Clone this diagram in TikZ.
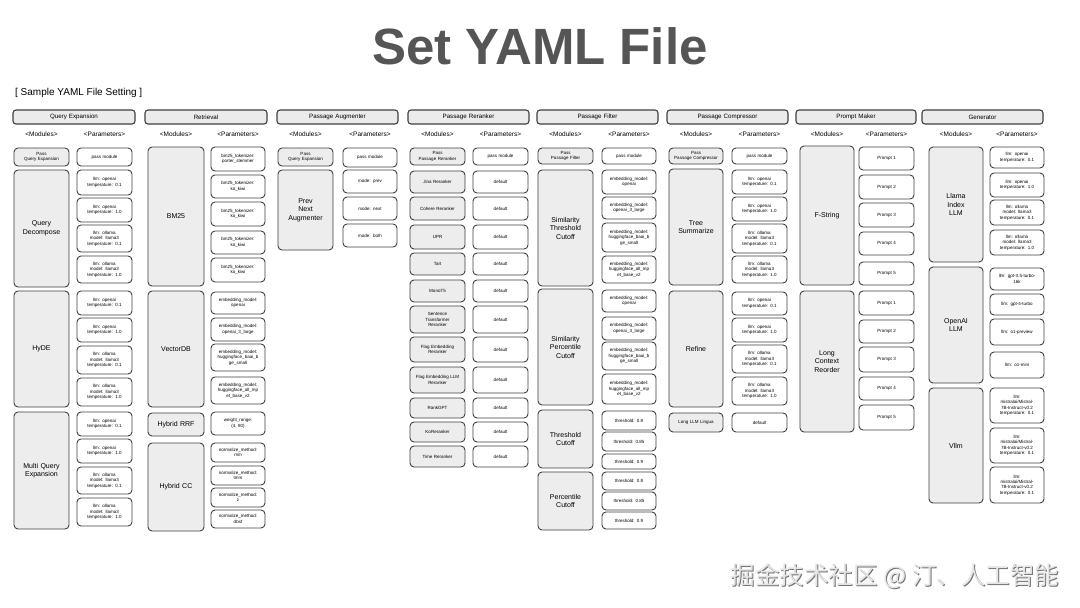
\documentclass[tikz,border=0pt]{standalone}
\usepackage{fontspec}
\setmainfont{Liberation Sans}
\newfontfamily\cjk{Noto Sans CJK SC}
\definecolor{ttlgray}{HTML}{555555}
\definecolor{modfill}{HTML}{EDEDED}
\definecolor{hdrfill}{HTML}{EBEBEB}
\definecolor{edge}{HTML}{404040}
\newcommand\bx[7]{%
  \pgfmathsetmacro\bxcx{(#3+#4)/2}\pgfmathsetmacro\bxcy{(#5+#6)/2}%
  \pgfmathsetmacro\bxw{#4-#3}\pgfmathsetmacro\bxh{#6-#5}\pgfmathsetmacro\bxtw{#4-#3-3}%
  \node[#2, minimum width=\bxw pt, minimum height=\bxh pt, text width=\bxtw pt] (#1) at (\bxcx,\bxcy) {#7};}
\newcommand\chd[3]{\node[colhd] (#1m) at (#2,134) {<Modules>};\node[colhd] (#1p) at (#3,134) {<Parameters>};}
\newcommand\PoA{llm: openai\\temperature: 0.1}
\newcommand\PoB{llm: openai\\temperature: 1.0}
\newcommand\PlA{llm: ollama\\model: llama3\\temperature: 0.1}
\newcommand\PlB{llm: ollama\\model: llama3\\temperature: 1.0}
\newcommand\EmA{embedding\_model:\\openai}
\newcommand\EmB{embedding\_model:\\openai\_3\_large}
\newcommand\EmC{embedding\_model:\\huggingface\_baai\_b\\ge\_small}
\newcommand\EmD{embedding\_model:\\huggingface\_all\_mp\\et\_base\_v2}
\newcommand\Mis{llm:\\mistralai/Mistral-\\7B-Instruct-v0.2\\temperature: 0.1}
\tikzset{
  x=1pt,y=-1pt,
  boxbase/.style={draw=edge, rounded corners=4pt, line width=0.9pt, inner sep=0pt, align=center},
  hdr/.style={boxbase, fill=hdrfill, rounded corners=3pt, line width=1.1pt, font=\fontsize{6.2}{7}\selectfont},
  mod/.style={boxbase, fill=modfill, font=\fontsize{7}{8.5}\selectfont},
  modsm/.style={boxbase, fill=modfill, font=\fontsize{4.5}{5.5}\selectfont},
  par/.style={boxbase, fill=white, font=\fontsize{4.5}{5.4}\selectfont},
  colhd/.style={inner sep=0pt, font=\fontsize{6.5}{7.5}\selectfont},
}
\begin{document}
\begin{tikzpicture}
\path[use as bounding box, fill=white] (0,0) rectangle (1080,608);
\node[font=\fontsize{51}{56}\bfseries, text=ttlgray, inner sep=0pt] (ttl) at (540,46) {Set YAML File};
\node[anchor=west, inner sep=0pt, font=\fontsize{10}{11}\selectfont] (sample) at (15,93) {[ Sample YAML File Setting ]};
% ---------- Query Expansion
\bx{qeh}{hdr}{13}{135}{110}{124}{Query Expansion}
\chd{qe}{41.5}{104.5}
\bx{qe0}{modsm}{14}{69}{148}{166}{Pass\\Query Expansion}
\bx{qe0p}{par}{77}{132}{148}{166}{pass module}
\bx{qe1}{mod}{14}{69}{170}{287}{Query\\Decompose}
\bx{qe1a}{par}{77}{132}{170}{195}{\PoA}
\bx{qe1b}{par}{77}{132}{198}{222}{\PoB}
\bx{qe1c}{par}{77}{132}{225}{252}{\PlA}
\bx{qe1d}{par}{77}{132}{256}{283}{\PlB}
\bx{qe2}{mod}{14}{69}{291}{407}{HyDE}
\bx{qe2a}{par}{77}{132}{291}{315}{\PoA}
\bx{qe2b}{par}{77}{132}{318}{342}{\PoB}
\bx{qe2c}{par}{77}{132}{346}{374}{\PlA}
\bx{qe2d}{par}{77}{132}{378}{406}{\PlB}
\bx{qe3}{mod}{14}{69}{412}{529}{Multi Query\\Expansion}
\bx{qe3a}{par}{77}{132}{412}{436}{\PoA}
\bx{qe3b}{par}{77}{132}{439}{463}{\PoB}
\bx{qe3c}{par}{77}{132}{467}{494}{\PlA}
\bx{qe3d}{par}{77}{132}{498}{526}{\PlB}
% ---------- Retrieval
\bx{reh}{hdr}{145}{267}{110}{124}{Retrieval}
\chd{re}{176}{238}
\bx{re1}{mod}{148}{204}{147}{286}{BM25}
\bx{re1a}{par}{211}{265}{147}{171}{bm25\_tokenizer:\\porter\_stemmer}
\bx{re1b}{par}{211}{265}{175}{198}{bm25\_tokenizer:\\ko\_kiwi}
\bx{re1c}{par}{211}{265}{202}{226}{bm25\_tokenizer:\\ko\_kiwi}
\bx{re1d}{par}{211}{265}{231}{254}{bm25\_tokenizer:\\ko\_kiwi}
\bx{re1e}{par}{211}{265}{258}{282}{bm25\_tokenizer:\\ko\_kiwi}
\bx{re2}{mod}{148}{204}{291}{407}{VectorDB}
\bx{re2a}{par}{211}{265}{292}{314}{\EmA}
\bx{re2b}{par}{211}{265}{318}{341}{\EmB}
\bx{re2c}{par}{211}{265}{344}{371}{\EmC}
\bx{re2d}{par}{211}{265}{377}{404}{\EmD}
\bx{re3}{mod}{148}{204}{413}{436}{Hybrid RRF}
\bx{re3a}{par}{211}{265}{412}{435}{weight\_range:\\(4, 80)}
\bx{re4}{mod}{148}{204}{443}{531}{Hybrid CC}
\bx{re4a}{par}{211}{265}{443}{462}{normalize\_method:\\mm}
\bx{re4b}{par}{211}{265}{466}{485}{normalize\_method:\\tmm}
\bx{re4c}{par}{211}{265}{488}{507}{normalize\_method:\\z}
\bx{re4d}{par}{211}{265}{510}{528}{normalize\_method:\\dbsf}
% ---------- Passage Augmenter
\bx{pah}{hdr}{277}{398}{110}{124}{Passage Augmenter}
\chd{pa}{305.5}{370}
\bx{pa0}{modsm}{278}{333}{148}{166}{Pass\\Query Expansion}
\bx{pa0p}{par}{343}{397}{148}{167}{pass module}
\bx{pa1}{mod}{278}{333}{170}{250}{Prev\\Next\\Augmenter}
\bx{pa1a}{par}{343}{397}{170}{193}{mode: prev}
\bx{pa1b}{par}{343}{397}{197}{220}{mode: next}
\bx{pa1c}{par}{343}{397}{224}{247}{mode: both}
% ---------- Passage Reranker
\bx{prh}{hdr}{408}{529}{110}{124}{Passage Reranker}
\chd{pr}{437.5}{500.5}
\bx{pr0}{modsm}{410}{465}{148}{165}{Pass\\Passage Reranker}
\bx{pr0p}{par}{473}{528}{148}{165}{pass module}
\bx{pr1}{modsm}{410}{465}{171}{193}{Jina Reranker}
\bx{pr1p}{par}{473}{528}{171}{193}{default}
\bx{pr2}{modsm}{410}{465}{197}{220}{Cohere Reranker}
\bx{pr2p}{par}{473}{528}{197}{220}{default}
\bx{pr3}{modsm}{410}{465}{225}{249}{UPR}
\bx{pr3p}{par}{473}{528}{225}{249}{default}
\bx{pr4}{modsm}{410}{465}{253}{275}{Tart}
\bx{pr4p}{par}{473}{528}{253}{275}{default}
\bx{pr5}{modsm}{410}{465}{280}{302}{MonoT5}
\bx{pr5p}{par}{473}{528}{280}{302}{default}
\bx{pr6}{modsm}{410}{465}{306}{333}{Sentence\\Transformer\\Reranker}
\bx{pr6p}{par}{473}{528}{306}{333}{default}
\bx{pr7}{modsm}{410}{465}{337}{362}{Flag Embedding\\Reranker}
\bx{pr7p}{par}{473}{528}{337}{362}{default}
\bx{pr8}{modsm}{410}{465}{367}{393}{Flag Embedding LLM\\Reranker}
\bx{pr8p}{par}{473}{528}{367}{393}{default}
\bx{pr9}{modsm}{410}{465}{398}{418}{RankGPT}
\bx{pr9p}{par}{473}{528}{398}{418}{default}
\bx{pr10}{modsm}{410}{465}{422}{442}{KoReranker}
\bx{pr10p}{par}{473}{528}{422}{442}{default}
\bx{pr11}{modsm}{410}{465}{446}{467}{Time Reranker}
\bx{pr11p}{par}{473}{528}{446}{467}{default}
% ---------- Passage Filter
\bx{pfh}{hdr}{537}{658}{110}{124}{Passage Filter}
\chd{pf}{565.5}{629}
\bx{pf0}{modsm}{538}{593}{148}{164}{Pass\\Passage Filter}
\bx{pf0p}{par}{602}{656}{148}{164}{pass module}
\bx{pf1}{mod}{538}{593}{170}{286}{Similarity\\Threshold\\Cutoff}
\bx{pf1a}{par}{602}{656}{170}{194}{\EmA}
\bx{pf1b}{par}{602}{656}{197}{219}{\EmB}
\bx{pf1c}{par}{602}{656}{223}{252}{\EmC}
\bx{pf1d}{par}{602}{656}{256}{283}{\EmD}
\bx{pf2}{mod}{538}{593}{289}{405}{Similarity\\Percentile\\Cutoff}
\bx{pf2a}{par}{602}{656}{290}{312}{\EmA}
\bx{pf2b}{par}{602}{656}{317}{340}{\EmB}
\bx{pf2c}{par}{602}{656}{342}{370}{\EmC}
\bx{pf2d}{par}{602}{656}{374}{404}{\EmD}
\bx{pf3}{mod}{538}{593}{410}{468}{Threshold\\Cutoff}
\bx{pf3a}{par}{602}{656}{411}{430}{threshold: 0.8}
\bx{pf3b}{par}{602}{656}{432}{451}{threshold: 0.85}
\bx{pf3c}{par}{602}{656}{454}{469}{threshold: 0.9}
\bx{pf4}{mod}{538}{593}{472}{530}{Percentile\\Cutoff}
\bx{pf4a}{par}{602}{656}{472}{490}{threshold: 0.8}
\bx{pf4b}{par}{602}{656}{492}{510}{threshold: 0.85}
\bx{pf4c}{par}{602}{656}{512}{529}{threshold: 0.9}
% ---------- Passage Compressor
\bx{pch}{hdr}{667}{788}{110}{124}{Passage Compressor}
\chd{pc}{696}{759.5}
\bx{pc0}{modsm}{669}{723}{148}{164}{Pass\\Passage Compressor}
\bx{pc0p}{par}{732}{787}{148}{164}{pass module}
\bx{pc1}{mod}{669}{723}{169}{285}{Tree\\Summarize}
\bx{pc1a}{par}{732}{787}{170}{194}{\PoA}
\bx{pc1b}{par}{732}{787}{197}{221}{\PoB}
\bx{pc1c}{par}{732}{787}{224}{253}{\PlA}
\bx{pc1d}{par}{732}{787}{256}{283}{\PlB}
\bx{pc2}{mod}{669}{723}{291}{407}{Refine}
\bx{pc2a}{par}{732}{787}{292}{315}{\PoA}
\bx{pc2b}{par}{732}{787}{318}{342}{\PoB}
\bx{pc2c}{par}{732}{787}{345}{373}{\PlA}
\bx{pc2d}{par}{732}{787}{377}{405}{\PlB}
\bx{pc3}{modsm}{669}{723}{413}{432}{Long LLM Lingua}
\bx{pc3p}{par}{732}{787}{413}{432}{default}
% ---------- Prompt Maker
\bx{pmh}{hdr}{796}{916}{110}{124}{Prompt Maker}
\chd{pm}{827}{886.5}
\bx{pm1}{mod}{800}{854}{146}{285}{F-String}
\bx{pm1a}{par}{859}{914}{147}{170}{Prompt 1}
\bx{pm1b}{par}{859}{914}{175}{199}{Prompt 2}
\bx{pm1c}{par}{859}{914}{203}{227}{Prompt 3}
\bx{pm1d}{par}{859}{914}{232}{255}{Prompt 4}
\bx{pm1e}{par}{859}{914}{262}{285}{Prompt 5}
\bx{pm2}{mod}{800}{854}{291}{432}{Long\\Context\\Reorder}
\bx{pm2a}{par}{859}{914}{291}{315}{Prompt 1}
\bx{pm2b}{par}{859}{914}{320}{343}{Prompt 2}
\bx{pm2c}{par}{859}{914}{347}{372}{Prompt 3}
\bx{pm2d}{par}{859}{914}{377}{400}{Prompt 4}
\bx{pm2e}{par}{859}{914}{405}{430}{Prompt 5}
% ---------- Generator
\bx{geh}{hdr}{922}{1043}{110}{124}{Generator}
\chd{ge}{956}{1017}
\bx{ge1}{mod}{929}{983}{147}{262}{Llama\\Index\\LLM}
\bx{ge1a}{par}{990}{1044}{147}{168}{\PoA}
\bx{ge1b}{par}{990}{1044}{173}{197}{\PoB}
\bx{ge1c}{par}{990}{1044}{200}{225}{\PlA}
\bx{ge1d}{par}{990}{1044}{230}{255}{\PlB}
\bx{ge2}{mod}{929}{983}{267}{383}{OpenAI\\LLM}
\bx{ge2a}{par}{990}{1044}{268}{290}{llm: gpt-3.5-turbo-\\16k}
\bx{ge2b}{par}{990}{1044}{294}{315}{llm: gpt-4-turbo}
\bx{ge2c}{par}{990}{1044}{319}{345}{llm: o1-preview}
\bx{ge2d}{par}{990}{1044}{352}{378}{llm: o1-mini}
\bx{ge3}{mod}{929}{983}{388}{503}{Vllm}
\bx{ge3a}{par}{990}{1044}{388}{423}{\Mis}
\bx{ge3b}{par}{990}{1044}{428}{463}{\Mis}
\bx{ge3c}{par}{990}{1044}{467}{503}{\Mis}
% ---------- watermark
\node[inner sep=0pt, font=\cjk\fontsize{24.5}{28}\selectfont, text=black!55] (wmsh) at (896,577) {掘金技术社区 @ 汀、人工智能};
\node[inner sep=0pt, font=\cjk\fontsize{24.5}{28}\selectfont, text=black!10] (wm) at (895,576) {掘金技术社区 @ 汀、人工智能};
\end{tikzpicture}
\end{document}
